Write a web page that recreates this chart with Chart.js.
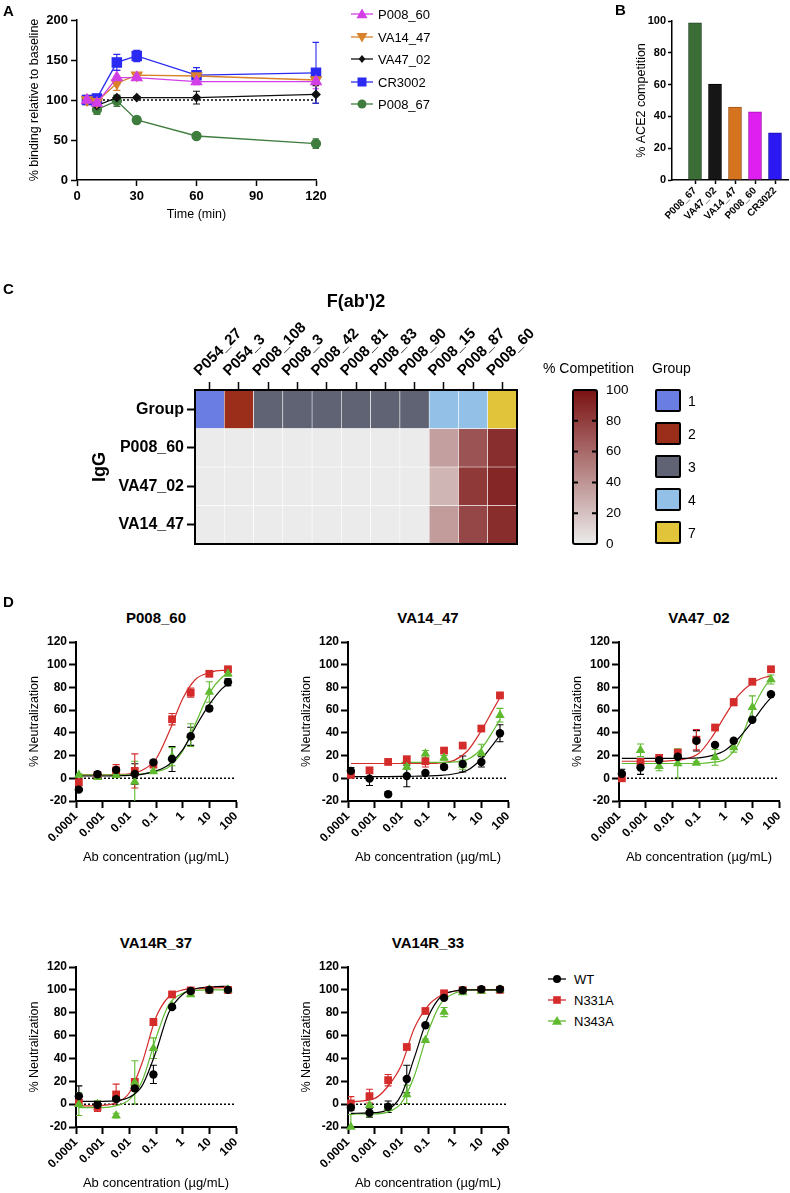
<!DOCTYPE html>
<html>
<head>
<meta charset="utf-8">
<title>Figure</title>
<script src="https://cdn.jsdelivr.net/npm/chart.js@4.4.1/dist/chart.umd.min.js"></script>
<style>
  body { margin: 0; background: #fff; }
  #page { position: relative; width: 790px; height: 1193px; overflow: hidden; background: #fff;
          font-family: 'Liberation Sans', Arial, sans-serif; color: #000; }
  #page canvas { position: absolute; }
  .txt { position: absolute; white-space: nowrap; line-height: 1; }
</style>
</head>
<body>
<div id="page"></div>
<script>
// ---- Panel A: binding relative to baseline over time ----
const timeMin = [5, 10, 20, 30, 60, 120];
const timeTicks = [0, 30, 60, 90, 120];
const bindTicks = [0, 50, 100, 150, 200];
const bindP008_60 = [100, 96, 128, 128, 123, 123];
const bindVA14_47 = [100, 98, 121, 131, 130, 125];
const bindVA47_02 = [100, 93, 103, 103, 103, 107];
const bindCR3002 = [100, 102, 147, 155, 131, 134];
const bindP008_67 = [100, 88, 99, 75, 55, 45.5];
const errP008_60 = [4, 3, 9, 3, 4, 9];
const errVA14_47 = [6, 3, 9, 3, 2, 3];
const errVA47_02 = [3, 3, 3, 1, 8, 11];
const errCR3002 = [4, 2, 10, 7, 9.5, 38];
const errP008_67 = [4, 6, 7, 1, 1, 6];
const baselineA = [100, 100];
const baselineATimes = [5, 120];

// ---- Panel B: ACE2 competition ----
const aceLabels = ['P008_67', 'VA47_02', 'VA14_47', 'P008_60', 'CR3022'];
const aceCompetition = [98.8, 60.4, 45.9, 42.8, 29.6];
const aceTicks = [0, 20, 40, 60, 80, 100];

// ---- Panel C: competition heatmap ----
const fabCols = ['P054_27', 'P054_3', 'P008_108', 'P008_3', 'P008_42', 'P008_81', 'P008_83', 'P008_90', 'P008_15', 'P008_87', 'P008_60'];
const fabGroups = [1, 2, 3, 3, 3, 3, 3, 3, 4, 4, 7];
const iggRows = ['P008_60', 'VA47_02', 'VA14_47'];
const compP008_60 = [0, 0, 0, 0, 0, 0, 0, 0, 35, 70, 87];
const compVA47_02 = [0, 0, 0, 0, 0, 0, 0, 0, 25, 82, 91];
const compVA14_47 = [0, 0, 0, 0, 0, 0, 0, 0, 37, 76, 88];
const compTicks = [0, 20, 40, 60, 80, 100];
const groupKeys = [1, 2, 3, 4, 7];

// ---- Panel D: neutralization ----
const conc = [0.000128, 0.00064, 0.0032, 0.016, 0.08, 0.4, 2, 10, 50];
const fitConc = [0.000128, 0.001, 0.003, 0.01, 0.03, 0.1, 0.3, 1, 3, 10, 30, 50];
const concTicks = [0.0001, 0.001, 0.01, 0.1, 1, 10, 100];
const concTickLabels = ['0.0001', '0.001', '0.01', '0.1', '1', '10', '100'];
const neutTicks = [-20, 0, 20, 40, 60, 80, 100, 120];
const neutBaseline = [0, 0];

const p60_WT = [-10, 3.5, 7.4, 3.8, 14, 17, 37, 61.5, 84.5];
const p60_WT_sd = [1, 2.5, 2, 9, 2, 11, 8, 2, 3];
const p60_WT_fit = [2, 2, 2.2, 2.6, 3.5, 6.5, 12, 25, 45, 65, 79, 83];
const p60_N331A = [-3.5, 2.5, 7, 6.5, 12, 52, 75.5, 92, 96];
const p60_N331A_sd = [3, 2, 5, 15, 2, 5, 4, 2, 1];
const p60_N331A_fit = [3, 3, 3.3, 4, 7, 17, 40, 70, 87, 93, 95, 95];
const p60_N343A = [3, 1, 3, -3, 6, 19, 38, 76, 92];
const p60_N343A_sd = [1, 2, 2, 18, 1, 8, 10, 9, 2];
const p60_N343A_fit = [3, 3, 3, 3, 4, 6, 10, 24, 48, 75, 89, 92];

const v1447_WT = [6.5, -0.3, -14, 2, 4.7, 10, 12.6, 14.4, 39.7];
const v1447_WT_sd = [3, 6, 2, 9.5, 1.5, 2, 7, 4.5, 7.5];
const v1447_WT_fit = [1.5, 1.5, 1.5, 1.6, 1.8, 2, 2.5, 4, 7, 17, 31, 38];
const v1447_N331A = [3, 7, 14.4, 16.8, 15, 24.4, 28.8, 43.8, 73];
const v1447_N331A_sd = [1, 1, 1, 2, 5, 1, 1, 2.5, 1];
const v1447_N331A_fit = [13, 13, 13, 13, 13, 13, 13.5, 16, 24, 42, 62, 71];
const v1447_N343A = [null, null, null, 10, 21.5, 18, 12, 22, 55.6];
const v1447_N343A_sd = [0, 0, 0, 2, 3, 2, 4, 8, 6];
const v1447_N343A_fit = [null, null, null, 14, 14, 14, 14, 14.5, 16.5, 26, 43, 52];

const v4702_WT = [4, 9.4, 16, 19, 33, 29.4, 33, 51.5, 74];
const v4702_WT_sd = [4, 6, 1, 1, 9, 1, 1, 1, 1];
const v4702_WT_fit = [17.5, 17.5, 17.5, 17.5, 17.6, 18, 20, 25, 35, 50, 65, 71];
const v4702_N331A = [0, 14.4, 18, 22.6, 34, 44.7, 67, 85, 96];
const v4702_N331A_sd = [2, 1, 1, 2, 9, 1, 3, 1, 1];
const v4702_N331A_fit = [15, 15, 15, 15.5, 17, 22, 36, 56, 73, 84, 89, 90];
const v4702_N343A = [null, 24.7, 10.6, 13, 13.5, 18.5, 27, 62.6, 87];
const v4702_N343A_sd = [0, 5.5, 4, 13, 1, 7, 4, 10, 4];
const v4702_N343A_fit = [13, 13, 13, 13, 13, 13, 14, 17, 30, 60, 81, 87];

const r37_WT = [7, -0.6, 4.4, 13.8, 26, 85, 99, 100, 100];
const r37_WT_sd = [9, 2, 2, 2, 8, 1, 1, 1, 1];
const r37_WT_fit = [2.5, 2.5, 3, 6, 16, 46, 80, 96, 101, 102.5, 103, 103];
const r37_N331A = [1, -2.5, 8.5, 19.4, 71.8, 96, 99.5, 100, 100];
const r37_N331A_sd = [3, 4, 9, 3, 3, 1, 1, 1, 1];
const r37_N331A_fit = [-1.5, -1, 1, 10, 36, 76, 94, 100, 101, 101.5, 102, 102];
const r37_N343A = [0, 0, -10, 19, 49, 86, 96, 100, 100];
const r37_N343A_sd = [10, 3, 2, 19, 9, 1, 1, 1, 1];
const r37_N343A_fit = [-3, -3, -1.5, 4, 20, 58, 87, 97, 99.5, 100, 100, 100];

const r33_WT = [-3, -7.5, -2.3, 22, 69, 93, 99.7, 100.6, 100.6];
const r33_WT_sd = [2, 4, 5, 12, 1, 1, 1, 1, 1];
const r33_WT_fit = [-8, -7.5, -5, 8, 40, 76, 94, 99, 100, 100, 100, 100];
const r33_N331A = [0.6, 7, 21, 50, 81.5, 97, 99.7, 100, 100];
const r33_N331A_sd = [6, 6, 5, 1, 1, 1, 1, 1, 1];
const r33_N331A_fit = [2, 5, 15, 34, 66, 86, 95, 99, 100, 100, 100, 100];
const r33_N343A = [-20, -1, -3, 8.5, 56, 80.6, 97.6, 99, 100];
const r33_N343A_sd = [11, 10, 2, 8, 1, 4, 1, 1, 1];
const r33_N343A_fit = [-8.5, -8.5, -7, 1, 24, 63, 88, 97, 99.5, 100, 100, 100];

// ---- styles ----
Chart.defaults.font.family = "'Liberation Sans', Arial, sans-serif";
Chart.defaults.color = '#000';
Chart.defaults.animation = false;
Chart.defaults.plugins.legend.display = false;
Chart.defaults.plugins.tooltip.enabled = false;

const page = document.getElementById('page');
const groupColors = { 1: '#6a7de2', 2: '#9a2e1a', 3: '#5f6373', 4: '#92c0e6', 7: '#e2c43a' };
const neutColors = { WT: '#000000', N331A: '#d42b2b', N343A: '#5fba2f' };

function addCanvas(left, top, w, h) {
  const c = document.createElement('canvas');
  c.width = w; c.height = h;
  c.style.left = left + 'px'; c.style.top = top + 'px';
  c.style.width = w + 'px'; c.style.height = h + 'px';
  page.appendChild(c);
  return c;
}

function addText(str, x, y, size, opts = {}) {
  const d = document.createElement('div');
  d.className = 'txt';
  d.textContent = str;
  d.style.fontSize = size + 'px';
  if (opts.bold) d.style.fontWeight = 'bold';
  const align = opts.align || 'left';
  const tx = align === 'center' ? '-50%' : align === 'right' ? '-100%' : '0';
  d.style.left = x + 'px';
  d.style.top = y + 'px';
  d.style.transform = 'translate(' + tx + ', -50%)';
  page.appendChild(d);
}

// fixed axis sizes so the plot areas land where the figure has them
function zeroPad(s) { s.paddingLeft = s.paddingRight = s.paddingTop = s.paddingBottom = 0; }
const fixW = w => s => { s.width = w; zeroPad(s); };
const fixH = h => s => { s.height = h; zeroPad(s); };
const setTicks = vals => s => { s.ticks = vals.map(v => ({ value: v })); };

function axisLines(tickLen, bw) {
  return {
    border: { display: true, color: '#000', width: bw },
    grid: { display: true, offset: false, drawOnChartArea: false, drawTicks: true, tickLength: tickLen, tickWidth: bw, tickColor: '#000' }
  };
}

// error bars drawn from each dataset's errors array
const errorBars = {
  id: 'errorBars',
  beforeDatasetsDraw(chart) {
    const { ctx, chartArea: a } = chart;
    ctx.save();
    ctx.beginPath();
    ctx.rect(a.left, a.top - 3, a.right - a.left + 3, a.bottom - a.top + 3);
    ctx.clip();
    chart.data.datasets.forEach((ds, di) => {
      if (!ds.errors) return;
      const meta = chart.getDatasetMeta(di);
      const ys = chart.scales[meta.yAxisID];
      ctx.strokeStyle = ds.borderColor;
      ctx.lineWidth = 1.1;
      meta.data.forEach((el, i) => {
        const v = ds.data[i].y, e = ds.errors[i];
        if (v == null || !e) return;
        const t = ys.getPixelForValue(v + e), b = ys.getPixelForValue(v - e), x = el.x;
        ctx.beginPath();
        ctx.moveTo(x, t); ctx.lineTo(x, b);
        ctx.moveTo(x - 3.5, t); ctx.lineTo(x + 3.5, t);
        ctx.moveTo(x - 3.5, b); ctx.lineTo(x + 3.5, b);
        ctx.stroke();
      });
    });
    ctx.restore();
  }
};

function svgMarker(shape, cx, cy, s, color) {
  if (shape === 'circle') return `<circle cx="${cx}" cy="${cy}" r="${s}" fill="${color}"/>`;
  if (shape === 'rect') return `<rect x="${cx - s}" y="${cy - s}" width="${2 * s}" height="${2 * s}" fill="${color}"/>`;
  if (shape === 'triangle') return `<polygon points="${cx},${cy - s} ${cx - s},${cy + s * 0.75} ${cx + s},${cy + s * 0.75}" fill="${color}"/>`;
  if (shape === 'triangleDown') return `<polygon points="${cx},${cy + s} ${cx - s},${cy - s * 0.75} ${cx + s},${cy - s * 0.75}" fill="${color}"/>`;
  return `<polygon points="${cx},${cy - s} ${cx + s * 0.85},${cy} ${cx},${cy + s} ${cx - s * 0.85},${cy}" fill="${color}"/>`;
}

function addLegend(items, x, y0, dy, lineLen, textX, size) {
  items.forEach((it, i) => {
    const y = y0 + i * dy;
    const d = document.createElement('div');
    d.style.cssText = `position:absolute;left:${x}px;top:${y - 8}px;width:${lineLen + 2}px;height:16px;`;
    d.innerHTML = `<svg width="${lineLen + 2}" height="16"><line x1="1" y1="8" x2="${lineLen + 1}" y2="8" stroke="${it.color}" stroke-width="1.3"/>` +
      svgMarker(it.shape, lineLen / 2 + 1, 8, it.size, it.color) + '</svg>';
    page.appendChild(d);
    addText(it.label, textX, y, size);
  });
}

// ---------------- Panel A ----------------
const aSeries = [
  { label: 'P008_60', vals: bindP008_60, err: errP008_60, color: '#d23fe6', shape: 'triangle', rot: 0, r: 6, leg: 'triangle', ls: 5.5 },
  { label: 'VA14_47', vals: bindVA14_47, err: errVA14_47, color: '#d9822b', shape: 'triangle', rot: 180, r: 6, leg: 'triangleDown', ls: 5.5 },
  { label: 'VA47_02', vals: bindVA47_02, err: errVA47_02, color: '#111111', shape: 'rectRot', rot: 0, r: 4, leg: 'diamond', ls: 4 },
  { label: 'CR3002', vals: bindCR3002, err: errCR3002, color: '#2a2af2', shape: 'rect', rot: 0, r: 6.5, leg: 'rect', ls: 4.5 },
  { label: 'P008_67', vals: bindP008_67, err: errP008_67, color: '#3f7d3f', shape: 'circle', rot: 0, r: 4.5, leg: 'circle', ls: 4.5 }
];

const aDatasets = aSeries.map(s => ({
  label: s.label,
  data: timeMin.map((t, i) => ({ x: t, y: s.vals[i] })),
  errors: s.err,
  showLine: true,
  borderColor: s.color,
  backgroundColor: s.color,
  borderWidth: 1.3,
  pointStyle: s.shape,
  rotation: s.rot,
  pointRadius: s.r,
  clip: false
}));
aDatasets.push({
  data: baselineATimes.map((t, i) => ({ x: t, y: baselineA[i] })),
  showLine: true, borderColor: '#000', borderWidth: 1.5, borderDash: [2, 2], pointRadius: 0, order: 10
});

new Chart(addCanvas(0, 0, 440, 226), {
  type: 'scatter',
  data: { datasets: aDatasets },
  options: {
    responsive: false, devicePixelRatio: 1,
    layout: { padding: { left: 0, top: 20, right: 124, bottom: 0 } },
    scales: {
      x: {
        type: 'linear', min: 0, max: 120,
        afterBuildTicks: setTicks(timeTicks),
        ticks: { font: { size: 13, weight: 'bold' }, padding: 3, maxRotation: 0 },
        title: { display: true, text: 'Time (min)', font: { size: 12.5 }, padding: { top: 0, bottom: 4 } },
        afterFit: fixH(46),
        ...axisLines(6, 1.5)
      },
      y: {
        min: 0, max: 200,
        afterBuildTicks: setTicks(bindTicks),
        ticks: { font: { size: 13, weight: 'bold' }, padding: 3 },
        title: { display: true, text: '% binding relative to baseline', font: { size: 12.5 }, padding: { top: 27.5, bottom: 0 } },
        afterFit: fixW(77),
        ...axisLines(6, 1.5)
      }
    }
  },
  plugins: [errorBars]
});

addLegend(aSeries.map(s => ({ label: s.label, color: s.color, shape: s.leg, size: s.ls })), 350, 14, 22.5, 22, 378, 13);

// ---------------- Panel B ----------------
const aceColors = ['#3b6d37', '#161616', '#d6731f', '#df1ef0', '#2b18f2'];
const aceBorders = ['#27482a', '#000000', '#9e5418', '#a514b0', '#1e12aa'];

new Chart(addCanvas(600, 0, 190, 235), {
  type: 'bar',
  data: {
    datasets: [{
      data: aceLabels.map((l, i) => ({ x: i, y: aceCompetition[i] })),
      backgroundColor: aceColors,
      borderColor: aceBorders,
      borderWidth: 1,
      barThickness: 13
    }]
  },
  options: {
    responsive: false, devicePixelRatio: 1,
    layout: { padding: { left: 0, top: 21, right: 2, bottom: 0 } },
    scales: {
      x: {
        type: 'linear', min: -1.15, max: 4.65, offset: false,
        afterBuildTicks: setTicks(aceLabels.map((l, i) => i)),
        ticks: { autoSkip: false, minRotation: 45, maxRotation: 45, font: { size: 10, weight: 'bold' }, padding: 1,
                 callback: v => aceLabels[v] },
        afterFit: fixH(55),
        ...axisLines(4, 1.5)
      },
      y: {
        min: 0, max: 100,
        afterBuildTicks: setTicks(aceTicks),
        ticks: { font: { size: 11, weight: 'bold' }, padding: 2 },
        title: { display: true, text: '% ACE2 competition', font: { size: 12.5 }, padding: { top: 34.5, bottom: 0 } },
        afterFit: fixW(72),
        ...axisLines(4, 1.5)
      }
    }
  }
});

// ---------------- Panel C ----------------
const heatRowNames = ['Group'].concat(iggRows);
const compRows = [compP008_60, compVA47_02, compVA14_47];
const lowRGB = [236, 235, 235], highRGB = [122, 18, 18];
function compColor(v) {
  const f = Math.max(0, Math.min(1, v / 100));
  const c = lowRGB.map((lo, k) => Math.round(lo + (highRGB[k] - lo) * f));
  return `rgb(${c[0]},${c[1]},${c[2]})`;
}

const heatFrame = {
  id: 'heatFrame',
  afterDraw(chart) {
    const { ctx, chartArea: a } = chart;
    ctx.save();
    ctx.strokeStyle = '#000'; ctx.lineWidth = 2;
    ctx.strokeRect(a.left, a.top, a.right - a.left, a.bottom - a.top);
    ctx.restore();
  }
};

new Chart(addCanvas(80, 285, 480, 264), {
  type: 'bar',
  data: {
    labels: fabCols,
    datasets: heatRowNames.map((name, r) => ({
      label: name,
      data: fabCols.map(() => [r, r + 1]),
      backgroundColor: r === 0 ? fabGroups.map(g => groupColors[g]) : compRows[r - 1].map(compColor),
      borderColor: '#ffffff',
      borderWidth: 0.6,
      borderSkipped: false,
      barPercentage: 1,
      categoryPercentage: 1,
      grouped: false
    }))
  },
  options: {
    responsive: false, devicePixelRatio: 1,
    layout: { padding: { left: 0, top: 0, right: 43, bottom: 5 } },
    scales: {
      x: {
        type: 'category', position: 'top', offset: true,
        ticks: { autoSkip: false, minRotation: 45, maxRotation: 45, font: { size: 15, weight: 'bold' }, padding: 2 },
        title: { display: true, text: "F(ab')2", font: { size: 18, weight: 'bold' }, padding: { top: 6.2, bottom: 0 } },
        afterFit: fixH(105),
        border: { display: false },
        grid: { display: true, offset: false, drawOnChartArea: false, tickLength: 8, tickWidth: 1.5, tickColor: '#000' }
      },
      y: {
        min: 0, max: 4, reverse: true,
        afterBuildTicks: setTicks(heatRowNames.map((n, i) => i + 0.5)),
        ticks: { font: { size: 16, weight: 'bold' }, padding: 3, callback: v => heatRowNames[Math.floor(v)] },
        title: { display: true, text: 'IgG', font: { size: 18, weight: 'bold' }, padding: { top: 9.2, bottom: 0 } },
        afterFit: fixW(115),
        border: { display: false },
        grid: { display: true, drawOnChartArea: false, tickLength: 8, tickWidth: 2, tickColor: '#000' }
      }
    }
  },
  plugins: [heatFrame]
});

// colour scale bar
const barFrame = {
  id: 'barFrame',
  afterDraw(chart) {
    const { ctx, chartArea: a } = chart;
    const ys = chart.scales.y;
    ctx.save();
    ctx.strokeStyle = '#000'; ctx.lineWidth = 2;
    ctx.beginPath();
    ctx.roundRect(a.left, a.top, a.right - a.left, a.bottom - a.top, 2);
    ctx.stroke();
    compTicks.slice(1, -1).forEach(v => {
      const y = ys.getPixelForValue(v);
      ctx.beginPath();
      ctx.moveTo(a.left, y); ctx.lineTo(a.left + 5, y);
      ctx.moveTo(a.right - 5, y); ctx.lineTo(a.right, y);
      ctx.stroke();
    });
    ctx.restore();
  }
};

new Chart(addCanvas(560, 380, 80, 170), {
  type: 'bar',
  data: {
    labels: [''],
    datasets: [{
      data: [[compTicks[0], compTicks[compTicks.length - 1]]],
      backgroundColor: ctx => {
        const a = ctx.chart.chartArea;
        if (!a) return compColor(50);
        const g = ctx.chart.ctx.createLinearGradient(0, a.bottom, 0, a.top);
        compTicks.forEach(v => g.addColorStop(v / 100, compColor(v)));
        return g;
      },
      borderWidth: 0, barPercentage: 1, categoryPercentage: 1
    }]
  },
  options: {
    responsive: false, devicePixelRatio: 1,
    layout: { padding: { left: 13, top: 10, right: 0, bottom: 6 } },
    scales: {
      x: { display: false },
      y: {
        position: 'right', min: 0, max: 100,
        afterBuildTicks: setTicks(compTicks),
        ticks: { font: { size: 13.5 }, padding: 9 },
        grid: { display: false, drawTicks: false },
        border: { display: false },
        afterFit: fixW(43)
      }
    }
  },
  plugins: [barFrame]
});

addText('% Competition', 543, 368, 14);
addText('Group', 652, 368, 14);
groupKeys.forEach((g, i) => {
  const top = 389 + i * 33.1;
  const b = document.createElement('div');
  b.style.cssText = `position:absolute;left:655px;top:${top}px;width:22px;height:19px;border:2px solid #000;border-radius:2px;background:${groupColors[g]};`;
  page.appendChild(b);
  addText(String(g), 688, top + 11.5, 14);
});

// ---------------- Panel D ----------------
function neutChart(title, x0, top, bottom, wt, wtSd, wtFit, rd, rdSd, rdFit, gr, grSd, grFit) {
  const pts = vals => conc.map((c, i) => ({ x: c, y: vals[i] }));
  const fit = vals => fitConc.map((c, i) => ({ x: c, y: vals[i] }));
  const pointSet = (label, vals, sd, shape, r, order) => ({
    label, data: pts(vals), errors: sd, showLine: false,
    borderColor: neutColors[label], backgroundColor: neutColors[label],
    pointStyle: shape, pointRadius: r, pointBorderWidth: 0, order, clip: false
  });
  const fitSet = (label, vals) => ({
    data: fit(vals), showLine: true, pointRadius: 0, borderWidth: 1.2,
    borderColor: neutColors[label], cubicInterpolationMode: 'monotone', order: 5
  });
  const datasets = [
    pointSet('WT', wt, wtSd, 'circle', 4.2, 0),
    pointSet('N343A', gr, grSd, 'triangle', 5.5, 1),
    pointSet('N331A', rd, rdSd, 'rect', 5.5, 2),
    fitSet('WT', wtFit), fitSet('N343A', grFit), fitSet('N331A', rdFit),
    {
      data: [concTicks[0], concTicks[concTicks.length - 1]].map((c, i) => ({ x: c, y: neutBaseline[i] })),
      showLine: true, borderColor: '#000', borderWidth: 1.5, borderDash: [2, 2], pointRadius: 0, order: 10
    }
  ];
  new Chart(addCanvas(x0 - 76, top - 15, 250, bottom - top + 15 + 68), {
    type: 'scatter',
    data: { datasets },
    options: {
      responsive: false, devicePixelRatio: 1,
      layout: { padding: { left: 0, top: 15, right: 14, bottom: 0 } },
      scales: {
        x: {
          type: 'logarithmic', min: concTicks[0], max: concTicks[concTicks.length - 1],
          afterBuildTicks: setTicks(concTicks),
          ticks: { autoSkip: false, minRotation: 45, maxRotation: 45, font: { size: 12, weight: 'bold' }, padding: 1,
                   callback: (v, i) => concTickLabels[i] },
          title: { display: true, text: 'Ab concentration (\u00b5g/mL)', font: { size: 13 }, padding: { top: 0, bottom: 4 } },
          afterFit: fixH(68),
          ...axisLines(7, 2)
        },
        y: {
          min: -20, max: 120,
          afterBuildTicks: setTicks(neutTicks),
          ticks: { font: { size: 12, weight: 'bold' }, padding: 2 },
          title: { display: true, text: '% Neutralization', font: { size: 12.5 }, padding: { top: 27.5, bottom: 0 } },
          afterFit: fixW(76),
          ...axisLines(7, 2)
        }
      }
    },
    plugins: [errorBars]
  });
  addText(title, x0 + 80, top - 25, 15, { bold: true, align: 'center' });
}

neutChart('P008_60', 76, 642, 801, p60_WT, p60_WT_sd, p60_WT_fit, p60_N331A, p60_N331A_sd, p60_N331A_fit, p60_N343A, p60_N343A_sd, p60_N343A_fit);
neutChart('VA14_47', 348, 642, 801, v1447_WT, v1447_WT_sd, v1447_WT_fit, v1447_N331A, v1447_N331A_sd, v1447_N331A_fit, v1447_N343A, v1447_N343A_sd, v1447_N343A_fit);
neutChart('VA47_02', 619, 642, 801, v4702_WT, v4702_WT_sd, v4702_WT_fit, v4702_N331A, v4702_N331A_sd, v4702_N331A_fit, v4702_N343A, v4702_N343A_sd, v4702_N343A_fit);
neutChart('VA14R_37', 76, 967, 1127, r37_WT, r37_WT_sd, r37_WT_fit, r37_N331A, r37_N331A_sd, r37_N331A_fit, r37_N343A, r37_N343A_sd, r37_N343A_fit);
neutChart('VA14R_33', 348, 967, 1127, r33_WT, r33_WT_sd, r33_WT_fit, r33_N331A, r33_N331A_sd, r33_N331A_fit, r33_N343A, r33_N343A_sd, r33_N343A_fit);

addLegend([
  { label: 'WT', color: neutColors.WT, shape: 'circle', size: 4 },
  { label: 'N331A', color: neutColors.N331A, shape: 'rect', size: 3.8 },
  { label: 'N343A', color: neutColors.N343A, shape: 'triangle', size: 5 }
], 547, 979, 21, 18, 574, 13);

// panel letters
addText('A', 3, 10, 15, { bold: true });
addText('B', 615, 9, 15, { bold: true });
addText('C', 3, 288, 15, { bold: true });
addText('D', 3, 601, 15, { bold: true });
</script>
</body>
</html>
